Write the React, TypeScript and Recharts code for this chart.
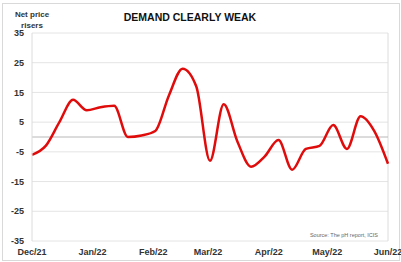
import { LineChart, Line, XAxis, YAxis, CartesianGrid, ReferenceLine } from 'recharts';

// weekly readings, Dec/21 - Jun/22
const weekDates = [
  '2021-12-01', '2021-12-08', '2021-12-15', '2021-12-22', '2021-12-29',
  '2022-01-05', '2022-01-12', '2022-01-19', '2022-01-26',
  '2022-02-02', '2022-02-09', '2022-02-16', '2022-02-23',
  '2022-03-02', '2022-03-09', '2022-03-16', '2022-03-23', '2022-03-30',
  '2022-04-06', '2022-04-13', '2022-04-20', '2022-04-27',
  '2022-05-04', '2022-05-11', '2022-05-18', '2022-05-25', '2022-06-01',
];
const netPriceRisers = [
  -6, -3, 5, 12.5, 9,
  10, 10.5, 0, 0.5,
  2, 14, 23, 17,
  -8, 11, -1.5, -10, -6.5,
  -1, -11, -4, -3,
  4, -4, 7, 2, -9,
];
const monthTickDates = ['2021-12-01', '2022-01-01', '2022-02-01', '2022-03-01', '2022-04-01', '2022-05-01', '2022-06-01'];
const monthTickLabels = ['Dec/21', 'Jan/22', 'Feb/22', 'Mar/22', 'Apr/22', 'May/22', 'Jun/22'];
const yTicks = [-35, -25, -15, -5, 5, 15, 25, 35];

const DAY = 86400000;
const start = Date.parse(weekDates[0]);
const toDay = (d: string) => Math.round((Date.parse(d) - start) / DAY);

const data = weekDates.map((d, i) => ({ day: toDay(d), value: netPriceRisers[i] }));
const monthTicks = monthTickDates.map(toDay);
const lastDay = toDay(weekDates[weekDates.length - 1]);

const FONT = '"Liberation Sans", Arial, sans-serif';

export default function App() {
  return (
    <div style={{ position: 'absolute', left: 0, top: 0, width: 401, height: 262, background: '#fff', fontFamily: FONT }}>
      {/* outer frame */}
      <div style={{ position: 'absolute', left: 2, top: 3, width: 396, height: 256, border: '1px solid #d9d9d9' }} />
      <LineChart width={401} height={262} data={data} margin={{ top: 33, right: 13, bottom: 0, left: 0 }}>
        <CartesianGrid vertical={false} stroke="#e4e4e4" />
        <XAxis
          dataKey="day"
          type="number"
          domain={[0, lastDay]}
          ticks={monthTicks}
          tickFormatter={(v: number) => monthTickLabels[monthTicks.indexOf(v)] ?? ''}
          axisLine={false}
          tickLine={false}
          height={21}
          interval={0}
          tick={{ fill: '#333', fontSize: 9, fontWeight: 700, fontFamily: FONT }}
        />
        <YAxis
          domain={[-35, 35]}
          ticks={yTicks}
          width={32}
          axisLine={{ stroke: '#dcdcdc' }}
          tickLine={false}
          interval={0}
          tick={{ fill: '#333', fontSize: 9, fontWeight: 700, fontFamily: FONT }}
        />
        <ReferenceLine x={lastDay} stroke="#dcdcdc" />
        <ReferenceLine y={0} stroke="#b8b8b8" />
        <Line
          type="monotone"
          dataKey="value"
          stroke="#e00c0c"
          strokeWidth={2.5}
          dot={false}
          isAnimationActive={false}
        />
      </LineChart>
      <div style={{ position: 'absolute', left: 0, top: 11, width: 401, textAlign: 'center', paddingLeft: 0 }}>
        <span style={{ position: 'absolute', left: 123, width: 134, textAlign: 'center', fontSize: 10.5, fontWeight: 700, color: '#111', whiteSpace: 'nowrap' }}>
          DEMAND CLEARLY WEAK
        </span>
      </div>
      <div style={{ position: 'absolute', left: 8, top: 9, width: 48, textAlign: 'center', fontSize: 8, fontWeight: 700, color: '#333', lineHeight: '11px' }}>
        Net price<br />risers
      </div>
      <div style={{ position: 'absolute', right: 23, top: 232, fontSize: 5.5, color: '#666', whiteSpace: 'nowrap' }}>
        Source: The pH report, ICIS
      </div>
    </div>
  );
}
